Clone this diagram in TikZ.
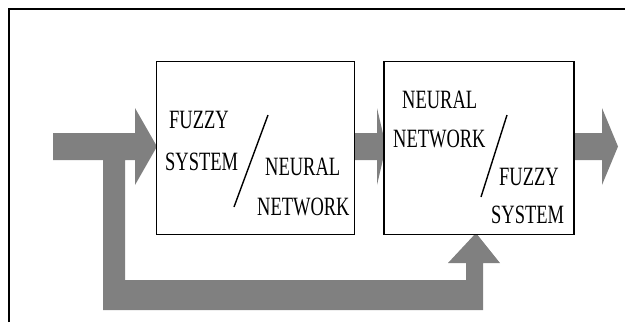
\documentclass[tikz,border=0pt]{standalone}
\usepackage{fontspec}
\usepackage{graphicx}
\newfontfamily\lblfont{Liberation Serif}
\definecolor{arrowgray}{RGB}{128,128,128}
\newcommand\sqz[1]{\scalebox{0.7}[1]{#1}}
\begin{document}
\begin{tikzpicture}[x=1pt,y=-1pt,
  blockbox/.style={draw=black, line width=1.5pt, fill=white, minimum width=198pt, minimum height=173pt, inner sep=0pt, outer sep=0pt},
  fatarrow/.style={fill=arrowgray, draw=none},
  lbl/.style={anchor=base west, inner sep=0pt, font=\lblfont\fontsize{26.4}{30}\selectfont},
  slash/.style={draw=black, line width=1.4pt}]
\useasboundingbox (0,0) rectangle (625,322);
% frame
\draw[line width=2pt] (9,322) -- (9,9) -- (625,9);
% input + feedback arrow
\fill[fatarrow] (53,133) -- (135,133) -- (135,108) -- (157,146.5) -- (135,185) -- (135,160)
  -- (125,160) -- (125,280) -- (466,280) -- (466,263) -- (448,263) -- (476,233)
  -- (500,263) -- (483,263) -- (483,310) -- (103,310) -- (103,160) -- (53,160) -- cycle;
% middle arrow
\fill[fatarrow] (354,133) -- (377,133) -- (377,108) -- (386,146.5) -- (377,185) -- (377,160) -- (354,160) -- cycle;
% output arrow
\fill[fatarrow] (573,133) -- (602,133) -- (602,108) -- (618,146.5) -- (602,185) -- (602,160) -- (573,160) -- cycle;
% blocks
\node[blockbox] (b1) at (255.5,148) {};
\node[blockbox, minimum width=190pt] (b2) at (479,148) {};
% box 1 texts
\node[lbl] (t1) at (169,128) {\sqz{FUZZY}};
\node[lbl] (t2) at (165,170) {\sqz{SYSTEM}};
\node[lbl] (t3) at (265,175) {\sqz{NEURAL}};
\node[lbl] (t4) at (257,215) {\sqz{NETWORK}};
\draw[slash] (268,115) -- (234,207);
% box 2 texts
\node[lbl] (u1) at (402,108) {\sqz{NEURAL}};
\node[lbl] (u2) at (393,147) {\sqz{NETWORK}};
\node[lbl] (u3) at (499,185) {\sqz{FUZZY}};
\node[lbl] (u4) at (491,223) {\sqz{SYSTEM}};
\draw[slash] (507,115) -- (481,197);
\end{tikzpicture}
\end{document}
